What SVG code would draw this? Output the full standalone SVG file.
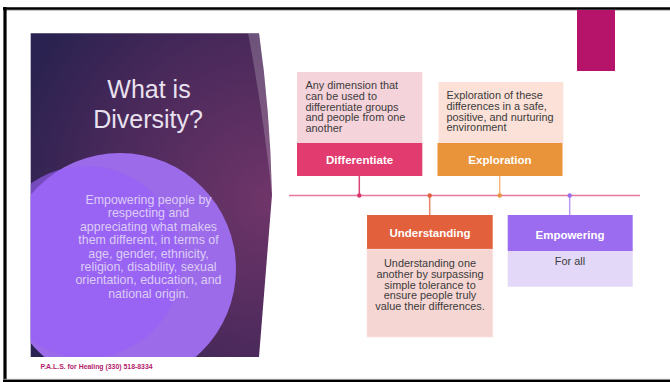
<svg xmlns="http://www.w3.org/2000/svg" width="670" height="382" viewBox="0 0 670 382">
  <defs>
    <radialGradient id="panelGrad" gradientUnits="userSpaceOnUse" cx="268" cy="200" r="270">
      <stop offset="0" stop-color="#6f3569"/>
      <stop offset="0.55" stop-color="#4d2a5c"/>
      <stop offset="1" stop-color="#2a2250"/>
    </radialGradient>
    <clipPath id="panelClip">
      <path d="M30.7,33.3 L259,33.3 Q270,110 272,195 L259,357 L30.7,357 Z"/>
    </clipPath>
  </defs>
  <style>
    .title { font-family: "Liberation Sans", Arial, sans-serif; font-size: 25px; fill: #e9e1ef; text-anchor: middle; }
    .body { font-family: "Liberation Sans", Arial, sans-serif; font-size: 12.4px; fill: #dccdf6; text-anchor: middle; }
    .footer { font-family: "Liberation Sans", Arial, sans-serif; font-size: 6.9px; font-weight: bold; fill: #b31b6b; }
    .head { font-family: "Liberation Sans", Arial, sans-serif; font-size: 11.5px; font-weight: bold; fill: #ffffff; text-anchor: middle; }
    .desc { font-family: "Liberation Sans", Arial, sans-serif; font-size: 10.9px; fill: #3b3b3b; }
    .mid { text-anchor: middle; }
    .tl { stroke: #e8799b; stroke-width: 1.6; fill: none; }
  </style>

  <!-- page frame -->
  <rect x="0" y="0" width="670" height="382" fill="#ffffff"/>
  <line x1="3" y1="10.2" x2="670" y2="10.2" stroke="#b0b0b0" stroke-width="1.2"/>
  <line x1="3" y1="8.5" x2="670" y2="8.5" stroke="#000000" stroke-width="2.6"/>
  <line x1="5" y1="7" x2="5" y2="382" stroke="#000000" stroke-width="3.2"/>
  <line x1="3" y1="379.3" x2="670" y2="379.3" stroke="#b0b0b0" stroke-width="1"/>
  <line x1="3" y1="381" x2="670" y2="381" stroke="#000000" stroke-width="2.4"/>

  <!-- accent tab -->
  <rect x="577" y="10" width="38" height="61" fill="#b5146a"/>

  <!-- title panel -->
  <g id="title-panel">
    <path d="M30.7,33.3 L259,33.3 Q270,110 272,195 L259,357 L30.7,357 Z" fill="url(#panelGrad)"/>
    <path d="M248,33.3 L259,33.3 Q270,110 272,195 Q262,105 248,33.3 Z" fill="#ffffff" opacity="0.2"/>
    <g clip-path="url(#panelClip)">
      <circle cx="120" cy="269" r="116" fill="#9c6bea"/>
      <circle cx="86" cy="262" r="96" fill="#985ff7" opacity="0.65"/>
    </g>
    <text class="title" x="149" y="98">What is</text>
    <text class="title" x="148" y="128">Diversity?</text>
    <text class="body" x="148.5" y="204">Empowering people by</text>
    <text class="body" x="148.5" y="217.4">respecting and</text>
    <text class="body" x="148.5" y="230.8">appreciating what makes</text>
    <text class="body" x="148.5" y="244.2">them different, in terms of</text>
    <text class="body" x="148.5" y="257.6">age, gender, ethnicity,</text>
    <text class="body" x="148.5" y="271">religion, disability, sexual</text>
    <text class="body" x="148.5" y="284.4">orientation, education, and</text>
    <text class="body" x="148.5" y="297.8">national origin.</text>
  </g>

  <text class="footer" x="40.5" y="369">P.A.L.S. for Healing (330) 518-8334</text>

  <!-- timeline and connectors -->
  <g id="connectors">
    <line class="tl" x1="289" y1="195.5" x2="640" y2="195.5"/>
    <line x1="359.3" y1="176" x2="359.3" y2="195.5" stroke="#d8457a" stroke-width="1.5"/>
    <line x1="499.7" y1="176" x2="499.7" y2="195.5" stroke="#f2b582" stroke-width="1.5"/>
    <line x1="429.7" y1="195.5" x2="429.7" y2="215" stroke="#e8846a" stroke-width="1.5"/>
    <line x1="569.7" y1="195.5" x2="569.7" y2="215" stroke="#b99af2" stroke-width="1.5"/>
    <circle cx="359.3" cy="195.5" r="2.2" fill="#d9346a"/>
    <circle cx="429.7" cy="195.5" r="2.2" fill="#e2603c"/>
    <circle cx="499.7" cy="195.5" r="2.2" fill="#e8943a"/>
    <circle cx="569.7" cy="195.5" r="2.2" fill="#9b6ef0"/>
  </g>

  <!-- Differentiate -->
  <g id="differentiate">
    <rect x="297" y="72" width="125.3" height="71" fill="#f5d3da"/>
    <rect x="297" y="143" width="125.3" height="33" fill="#e13b6f"/>
    <text class="head" x="359.6" y="164">Differentiate</text>
    <text class="desc" x="305.5" y="89">Any dimension that</text>
    <text class="desc" x="305.5" y="99.8">can be used to</text>
    <text class="desc" x="305.5" y="110.6">differentiate groups</text>
    <text class="desc" x="305.5" y="121.4">and people from one</text>
    <text class="desc" x="305.5" y="132.2">another</text>
  </g>

  <!-- Exploration -->
  <g id="exploration">
    <rect x="438.5" y="82" width="124.8" height="61" fill="#fbe1d7"/>
    <rect x="437.5" y="143" width="125" height="33" fill="#e9943a"/>
    <text class="head" x="500" y="164">Exploration</text>
    <text class="desc" x="446.5" y="99">Exploration of these</text>
    <text class="desc" x="446.5" y="109.8">differences in a safe,</text>
    <text class="desc" x="446.5" y="120.6">positive, and nurturing</text>
    <text class="desc" x="446.5" y="131.4">environment</text>
  </g>

  <!-- Understanding -->
  <g id="understanding">
    <rect x="367" y="215" width="125.7" height="34.3" fill="#e2603c"/>
    <rect x="367" y="249.3" width="125.7" height="87.7" fill="#f6d6d3" stroke="#f9e4e2" stroke-width="0.8"/>
    <text class="head" x="430" y="237">Understanding</text>
    <text class="desc mid" x="430" y="267">Understanding one</text>
    <text class="desc mid" x="430" y="277.8">another by surpassing</text>
    <text class="desc mid" x="430" y="288.6">simple tolerance to</text>
    <text class="desc mid" x="430" y="299.4">ensure people truly</text>
    <text class="desc mid" x="430" y="310.2">value their differences.</text>
  </g>

  <!-- Empowering -->
  <g id="empowering">
    <rect x="507.7" y="215" width="125" height="36" fill="#9b6bf0"/>
    <rect x="507.7" y="251" width="125" height="35.7" fill="#e3d8f8"/>
    <text class="head" x="570" y="239">Empowering</text>
    <text class="desc mid" x="570" y="265">For all</text>
  </g>
</svg>
